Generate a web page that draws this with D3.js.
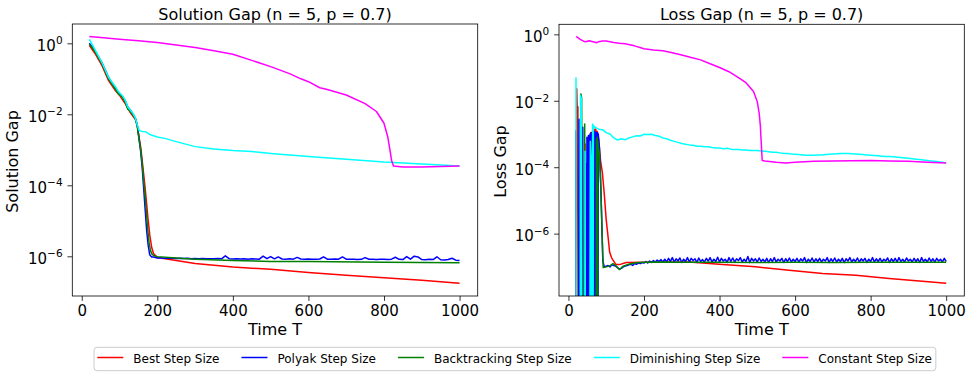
<!DOCTYPE html>
<html>
<head>
<meta charset="utf-8">
<script src="https://cdn.jsdelivr.net/npm/d3@7"></script>
<style>
  body { margin: 0; background: #fff; }
  text { font-family: "DejaVu Sans", sans-serif; fill: #000; }
</style>
</head>
<body>
<svg id="chart" width="973" height="377"></svg>
<script>
// DATA
var tickT = [0, 200, 400, 600, 800, 1000];
var tickExp = [0, -2, -4, -6];
var seriesNames = ["Best Step Size", "Polyak Step Size", "Backtracking Step Size", "Diminishing Step Size", "Constant Step Size"];
var seriesColors = ["#ff0000", "#0000ff", "#008000", "#00ffff", "#ff00ff"];

// solution gap, [T, value]
var solBest = [[20,0.88],[36,0.5],[54,0.23],[71,0.089],[89,0.047],[102,0.032],[115,0.02],[129,0.011],[142,0.0071],[147,0.0048],[151,0.0025],[156,1.2e-3],[160,5e-4],[164,2e-4],[168,7.9e-5],[172,2.8e-5],[175,1.26e-5],[178,6.3e-6],[180,4e-6],[185,1.8e-6],[190,1.2e-6],[200,9.3e-7],[250,7.6e-7],[300,6.3e-7],[400,5e-7],[500,4.3e-7],[600,3.5e-7],[700,2.95e-7],[800,2.5e-7],[900,2.1e-7],[1000,1.74e-7]];
var solPolyakHead = [[20,1.0],[30,0.74],[36,0.6],[45,0.4],[54,0.28],[62,0.18],[71,0.11],[80,0.078],[89,0.056],[95,0.045],[102,0.037],[108,0.032],[115,0.024],[122,0.016],[129,0.013],[136,0.01],[142,0.0078],[147,0.005],[151,0.0024],[156,9e-4],[160,3.2e-4],[164,8e-5],[168,2e-5],[172,5e-6],[176,2e-6],[180,1.1e-6],[185,9.5e-7]];
// T = 190, 200, ... 1000, in units of 1e-7
var solPolyakTail = [9.5,
  9.0,8.9,8.8,8.9,8.8,8.7,8.8,8.7,8.8,8.6,
  8.7,8.6,8.7,8.6,8.5,8.6,8.7,8.5,10.3,8.6,
  8.4,8.5,8.4,8.6,8.3,8.5,8.4,8.3,10.1,8.6,
  9.8,8.5,9.6,8.4,8.3,8.5,8.3,9.3,8.4,8.3,
  8.4,8.3,8.2,8.4,9.7,8.3,8.2,8.4,8.3,9.6,
  8.3,8.2,8.3,8.1,8.2,9.2,8.3,8.2,8.1,8.3,
  8.2,8.1,8.3,9.4,8.2,8.1,9.8,8.3,10.1,9.6,
  8.1,8.0,8.2,8.1,9.7,8.0,7.9,8.1,8.8,7.8,
  7.6];
var solBacktrack = [[20,0.95],[30,0.7],[36,0.56],[45,0.38],[54,0.26],[62,0.166],[71,0.1],[80,0.071],[89,0.051],[95,0.04],[102,0.034],[108,0.03],[115,0.022],[122,0.014],[129,0.012],[136,0.0095],[142,0.0074],[147,0.0045],[151,0.0022],[156,1e-3],[160,4e-4],[164,1.26e-4],[168,4.6e-5],[172,1.26e-5],[175,5.2e-6],[178,2.5e-6],[182,1.45e-6],[186,1.15e-6],[190,1.05e-6],[200,9.8e-7],[250,8.9e-7],[300,8.3e-7],[400,7.6e-7],[500,7.2e-7],[600,7.1e-7],[800,6.8e-7],[1000,6.6e-7]];
var solDiminish = [[20,1.3],[30,0.83],[36,0.63],[45,0.42],[54,0.28],[62,0.18],[71,0.11],[80,0.08],[89,0.06],[95,0.047],[102,0.038],[108,0.033],[115,0.025],[122,0.016],[129,0.013],[136,0.0105],[142,0.0079],[146,0.0054],[152,0.0035],[160,0.0033],[170,0.0032],[180,0.0027],[200,0.0023],[220,0.0021],[250,0.0017],[300,0.00123],[350,0.00105],[400,9.5e-4],[450,8.9e-4],[500,7.9e-4],[600,6.5e-4],[700,5.4e-4],[800,4.5e-4],[900,4.0e-4],[1000,3.5e-4]];
var solConstant = [[20,1.55],[50,1.45],[100,1.3],[150,1.18],[200,1.05],[250,0.9],[300,0.76],[350,0.62],[400,0.49],[450,0.33],[500,0.22],[550,0.14],[580,0.1],[600,0.083],[630,0.056],[650,0.05],[700,0.035],[750,0.02],[780,0.012],[800,0.0056],[810,0.0023],[815,1.1e-3],[820,5.1e-4],[825,3.5e-4],[850,3.3e-4],[900,3.3e-4],[950,3.4e-4],[1000,3.5e-4]];

// loss gap, [T, value]; 0 means the value fell to zero (clipped on the log axis)
var lossBest = [[20,0],[22,2.3e-2],[23,6.6e-3],[25,6.6e-3],[26,0],[43,0],[44,5e-4],[45,0],[58,0],[59,1.1e-3],[60,0],[63,0],[64,1.3e-3],[66,1.1e-3],[68,1.4e-3],[70,1.2e-3],[72,1.4e-3],[74,1.0e-3],[76,1.2e-3],[78,9e-4],[80,6.6e-4],[85,1.6e-4],[90,6.6e-5],[95,1.5e-5],[100,2.6e-6],[105,7.9e-7],[109,2.8e-7],[114,1.9e-7],[118,1.6e-7],[126,1.17e-7],[135,1.17e-7],[153,1.35e-7],[200,1.38e-7],[320,1.41e-7],[408,1.17e-7],[496,1.0e-7],[584,7.9e-8],[673,6.3e-8],[761,5.6e-8],[849,4.5e-8],[937,3.7e-8],[1000,3.2e-8]];
var lossPolyakHead = [[20,1.3e-3],[21,0],[27,0],[28,2.8e-3],[29,0],[37,0],[38,1.6e-3],[39,0],[46,0],
  [47,1.3e-4],[48,0],[49,8e-4],[50,0],[51,1.5e-4],[52,0],[53,9e-4],[54,0],[55,3e-4],[56,0],[57,1.0e-3],[58,0],
  [59,6e-4],[60,0],[61,1.1e-3],[62,0],[63,7e-4],[64,0],[65,1.0e-3],[66,0],[67,8e-4],[68,0],[69,1.2e-3],[70,0],
  [71,9e-4],[72,0],[73,1.1e-3],[74,0],[75,1.0e-3],[76,0],[77,1.1e-3],[78,0],[79,1.0e-3],[82,4e-4],[85,5e-5],[88,3e-6],[91,1.5e-7]];
// T = 95, 100, ... 1000, in units of 1e-7
var lossPolyakTail = [1.0,1.05,1.1,1.0,1.15,1.1,1.05,0.95,0.85,0.9,1.0,1.05,
  1.1,1.15,1.2,1.1,1.25,1.2,1.3,1.25,1.35,1.3,1.45,1.3,1.5,1.35,1.55,1.4,1.6,1.45,1.65,1.4,
  1.7,1.4,1.8,1.45,1.9,1.4,1.75,1.5,1.85,1.35,
  1.7,1.45,1.9,1.4,1.8,1.55,1.75,1.35,1.85,1.45,
  1.65,1.4,1.8,1.5,1.9,1.4,1.7,1.45,1.95,1.4,
  1.8,1.5,1.7,1.35,1.9,1.45,1.85,1.4,1.75,1.55,
  1.9,1.4,1.7,1.45,2.05,1.35,1.8,1.5,1.75,1.4,
  1.85,1.45,1.7,1.4,1.8,1.35,1.75,1.45,1.9,1.4,
  1.7,1.5,1.8,1.35,1.75,1.45,1.85,1.4,1.7,1.45,
  1.8,1.4,1.75,1.5,1.9,1.35,1.7,1.45,1.85,1.4,
  1.75,1.45,1.8,1.4,1.7,1.5,1.9,1.35,1.75,1.45,
  1.85,1.4,1.7,1.45,1.8,1.35,1.75,1.5,1.9,1.4,
  1.7,1.45,1.85,1.4,1.75,1.5,1.8,1.35,1.7,1.45,
  1.9,1.4,1.75,1.45,1.8,1.4,1.7,1.5,1.85,1.35,
  1.75,1.45,1.8,1.4,1.9,1.45,1.7,1.4,1.85,1.5,
  1.7,1.4,1.8,1.45,1.75,1.35,1.9,1.45,1.7,1.4,
  1.85,1.45,1.75,1.4,1.8,1.5,1.7,1.4,1.8,1.45];
var lossBacktrack = [[20,0],[31,0],[33,1.6e-2],[35,1.2e-2],[37,0],[42,0],[43,2e-3],[44,0],[73,0],[74,7e-4],[75,0],[76,8e-4],[77,0],[78,6e-4],[79,4e-4],[82,2.5e-4],[86,2e-5],[89,1e-6],[92,9.5e-8],[100,1.0e-7],[110,1.07e-7],[118,1.26e-7],[126,1.07e-7],[135,8.3e-8],[145,1.05e-7],[160,1.2e-7],[180,1.32e-7],[200,1.38e-7],[250,1.41e-7],[300,1.38e-7],[400,1.38e-7],[500,1.36e-7],[600,1.38e-7],[700,1.36e-7],[800,1.38e-7],[900,1.37e-7],[1000,1.38e-7]];
var lossDiminishHead = [[20,5e-2],[21,0],[31,0],[32,1.45e-2],[34,1.2e-2],[35,0],[43,0],[44,3e-4],[45,0],[56,0],[58,6e-4],[60,2e-4],[61,0],[63,0],[64,2e-3],[65,0],[66,1.8e-3]];
// T = 70, 80, ... 1000, in units of 1e-4
var lossDiminishTail = [16,14,13.5,11,10,7.6,6.6,7.2,6.7,7.6,
  8.2,8.9,8.7,9.8,9.6,9.8,9.0,8.6,7.6,7.2,
  6.5,6.0,5.6,5.2,4.9,4.7,4.6,4.3,4.3,4.1,
  4.1,3.9,3.8,3.8,3.6,3.7,3.5,3.4,3.4,3.3,
  3.3,3.2,3.2,3.2,3.1,3.0,2.9,2.8,2.8,2.7,
  2.6,2.6,2.5,2.45,2.4,2.35,2.3,2.3,2.3,2.35,
  2.35,2.4,2.45,2.5,2.55,2.6,2.6,2.6,2.55,2.5,
  2.45,2.4,2.35,2.3,2.25,2.2,2.15,2.1,2.1,2.05,
  2.0,1.95,1.9,1.85,1.8,1.75,1.7,1.65,1.6,1.55,
  1.5,1.45,1.4,1.35];
var lossConstant = [[20,0.85],[25,0.8],[30,0.72],[35,0.67],[40,0.62],[45,0.6],[50,0.62],[55,0.64],[60,0.62],[70,0.58],[75,0.56],[80,0.6],[90,0.63],[100,0.63],[110,0.6],[120,0.57],[135,0.54],[150,0.52],[175,0.45],[200,0.37],[225,0.34],[250,0.32],[275,0.28],[300,0.24],[325,0.2],[350,0.17],[375,0.13],[400,0.1],[425,0.075],[450,0.05],[470,0.035],[490,0.019],[500,0.0093],[505,0.0042],[508,0.0018],[510,6.6e-4],[513,1.6e-4],[520,1.55e-4],[550,1.4e-4],[575,1.35e-4],[600,1.4e-4],[650,1.5e-4],[700,1.55e-4],[750,1.57e-4],[800,1.6e-4],[850,1.55e-4],[900,1.5e-4],[950,1.42e-4],[1000,1.35e-4]];

function withTail(head, tail, t0, dt, unit) {
  return head.concat(tail.map(function(v, i) { return [t0 + i * dt, v * unit]; }));
}

var panels = [
  { title: "Solution Gap (n = 5, p = 0.7)", ylabel: "Solution Gap",
    left: 72.3, right: 477.7, top: 24, bottom: 296, logMin: -7.118, logMax: 0.544, ylabX: 17.5,
    series: [solBest, withTail(solPolyakHead, solPolyakTail, 190, 10, 1e-7), solBacktrack, solDiminish, solConstant] },
  { title: "Loss Gap (n = 5, p = 0.7)", ylabel: "Loss Gap",
    left: 559, right: 964.3, top: 24.3, bottom: 296, logMin: -7.877, logMax: 0.302, ylabX: 505.5,
    series: [lossBest, withTail(lossPolyakHead, lossPolyakTail, 95, 5, 1e-7), lossBacktrack,
             withTail(lossDiminishHead, lossDiminishTail, 70, 10, 1e-4), lossConstant] }
];

var svg = d3.select("#chart");
var tickLen = 4.86;

panels.forEach(function(p, pi) {
  var x = d3.scaleLinear().domain([-25, 1048]).range([p.left, p.right]);
  var y = d3.scaleLog().domain([Math.pow(10, p.logMin), Math.pow(10, p.logMax)]).range([p.bottom, p.top]);

  var clipId = "clip" + pi;
  svg.append("clipPath").attr("id", clipId)
    .append("rect")
      .attr("x", p.left).attr("y", p.top)
      .attr("width", p.right - p.left).attr("height", p.bottom - p.top);

  var line = d3.line()
    .x(function(d) { return x(d[0]); })
    .y(function(d) { return d[1] > 0 ? y(d[1]) : y(1e-12); });

  var g = svg.append("g").attr("clip-path", "url(#" + clipId + ")");
  p.series.forEach(function(s, si) {
    g.append("path")
      .attr("d", line(s))
      .attr("fill", "none")
      .attr("stroke", seriesColors[si])
      .attr("stroke-width", 1.5)
      .attr("stroke-linejoin", "round");
  });

  // x axis
  var xAxis = svg.append("g")
    .attr("transform", "translate(0," + p.bottom + ")")
    .call(d3.axisBottom(x).tickValues(tickT).tickFormat(d3.format("d"))
      .tickSize(tickLen).tickPadding(tickLen).tickSizeOuter(0));
  xAxis.select(".domain").remove();
  xAxis.selectAll("line").attr("stroke", "#000").attr("stroke-width", 0.8);
  xAxis.selectAll("text").attr("font-size", 15).attr("font-family", "DejaVu Sans");

  // y axis (log, labels as 10^n)
  var yAxis = svg.append("g")
    .attr("transform", "translate(" + p.left + ",0)")
    .call(d3.axisLeft(y).tickValues(tickExp.map(function(e) { return Math.pow(10, e); }))
      .tickSize(tickLen).tickFormat("").tickSizeOuter(0));
  yAxis.select(".domain").remove();
  yAxis.selectAll("line").attr("stroke", "#000").attr("stroke-width", 0.8);

  tickExp.forEach(function(e) {
    var ty = y(Math.pow(10, e));
    var t = svg.append("text")
      .attr("x", p.left - 2 * tickLen)
      .attr("y", ty + 7.4)
      .attr("text-anchor", "end")
      .attr("font-size", 15);
    t.append("tspan").text("10");
    t.append("tspan").attr("font-size", 10.5).attr("dy", -6.4)
      .text(e < 0 ? "\u2212" + (-e) : String(e));
  });

  // frame
  svg.append("rect")
    .attr("x", p.left).attr("y", p.top)
    .attr("width", p.right - p.left).attr("height", p.bottom - p.top)
    .attr("fill", "none").attr("stroke", "#000").attr("stroke-width", 0.8);

  var cx = (p.left + p.right) / 2;
  svg.append("text")
    .attr("x", cx).attr("y", 19.5)
    .attr("text-anchor", "middle").attr("font-size", 16)
    .text(p.title);

  svg.append("text")
    .attr("x", cx).attr("y", 335)
    .attr("text-anchor", "middle").attr("font-size", 16)
    .text("Time T");

  svg.append("text")
    .attr("transform", "translate(" + p.ylabX + ",161.5) rotate(-90)")
    .attr("text-anchor", "middle").attr("font-size", 16)
    .text(p.ylabel);
});

// LEGEND
var legend = svg.append("g");
var legBox = legend.append("rect")
  .attr("fill", "#fff").attr("fill-opacity", 0.8)
  .attr("stroke", "#cccccc").attr("stroke-width", 1)
  .attr("rx", 3).attr("ry", 3);

var cur = 97.3;
seriesNames.forEach(function(name, i) {
  legend.append("line")
    .attr("x1", cur).attr("x2", cur + 26)
    .attr("y1", 357.5).attr("y2", 357.5)
    .attr("stroke", seriesColors[i]).attr("stroke-width", 1.5);
  var t = legend.append("text")
    .attr("x", cur + 36).attr("y", 362.5)
    .attr("font-size", 12)
    .text(name);
  cur = cur + 36 + t.node().getComputedTextLength() + 22;
});
legBox.attr("x", 94).attr("y", 347.3)
  .attr("width", cur - 22 + 4 - 94).attr("height", 23.4);
</script>
</body>
</html>
